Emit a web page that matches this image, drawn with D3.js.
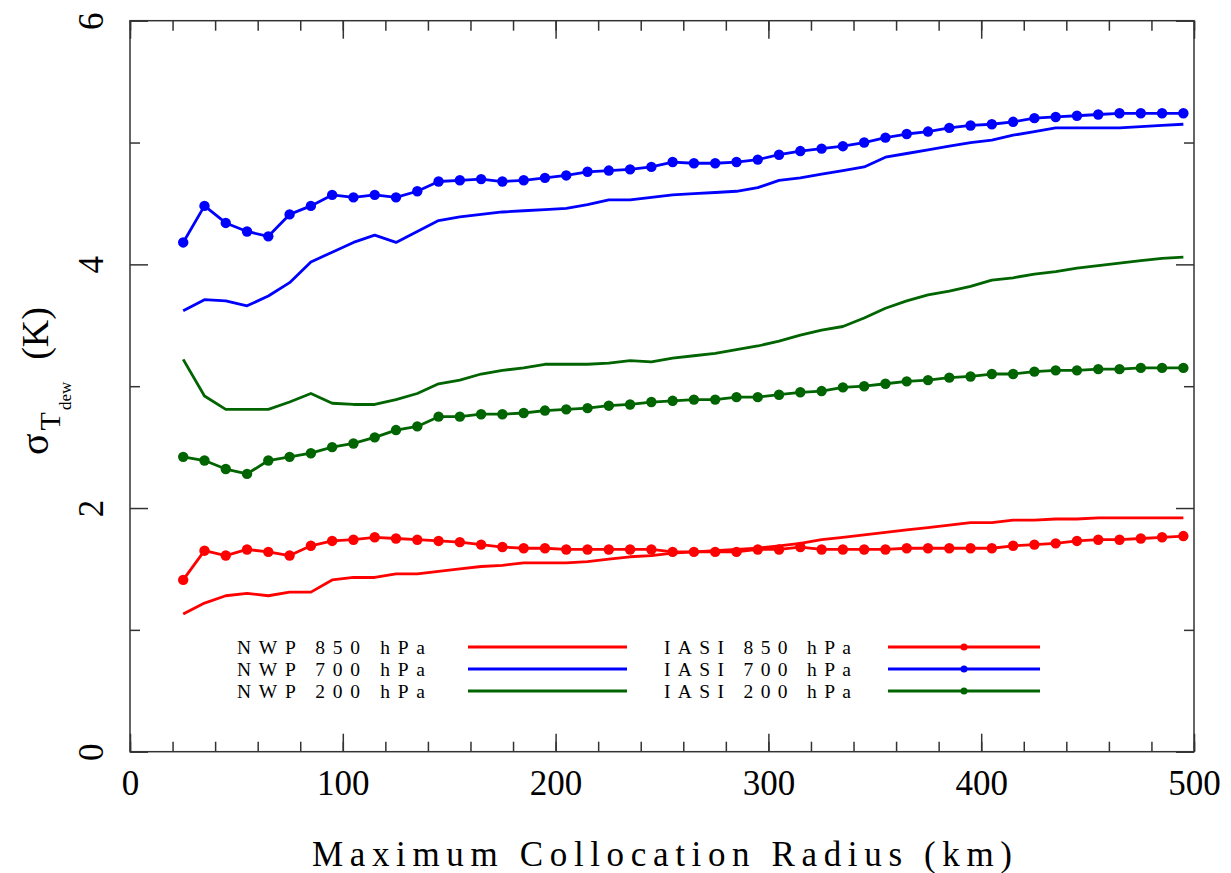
<!DOCTYPE html>
<html>
<head>
<meta charset="utf-8">
<script src="https://cdn.jsdelivr.net/npm/d3@7"></script>
<style>
body { margin: 0; background: #fff; }
svg text { font-family: "Liberation Serif", "Times New Roman", Times, serif; fill: #000; }
</style>
</head>
<body>
<svg id="chart" width="1231" height="873"></svg>
<script>
// maximum collocation radius (km), one sample every 10 km
var radius = [25, 35, 45, 55, 65, 75, 85, 95, 105, 115, 125, 135, 145, 155, 165, 175,
              185, 195, 205, 215, 225, 235, 245, 255, 265, 275, 285, 295, 305, 315, 325, 335,
              345, 355, 365, 375, 385, 395, 405, 415, 425, 435, 445, 455, 465, 475, 485, 495];

var nwp850 = [1.13, 1.22, 1.28, 1.30, 1.28, 1.31, 1.31, 1.41, 1.43, 1.43, 1.46, 1.46, 1.48, 1.50, 1.52, 1.53,
              1.55, 1.55, 1.55, 1.56, 1.58, 1.60, 1.61, 1.63, 1.64, 1.65, 1.66, 1.67, 1.69, 1.71, 1.74, 1.76,
              1.78, 1.80, 1.82, 1.84, 1.86, 1.88, 1.88, 1.90, 1.90, 1.91, 1.91, 1.92, 1.92, 1.92, 1.92, 1.92];
var nwp700 = [3.62, 3.71, 3.70, 3.66, 3.74, 3.85, 4.02, 4.10, 4.18, 4.24, 4.18, 4.27, 4.36, 4.39, 4.41, 4.43,
              4.44, 4.45, 4.46, 4.49, 4.53, 4.53, 4.55, 4.57, 4.58, 4.59, 4.60, 4.63, 4.69, 4.71, 4.74, 4.77,
              4.80, 4.88, 4.91, 4.94, 4.97, 5.00, 5.02, 5.06, 5.09, 5.12, 5.12, 5.12, 5.12, 5.13, 5.14, 5.15];
var nwp200 = [3.22, 2.92, 2.81, 2.81, 2.81, 2.87, 2.94, 2.86, 2.85, 2.85, 2.89, 2.94, 3.02, 3.05, 3.10, 3.13,
              3.15, 3.18, 3.18, 3.18, 3.19, 3.21, 3.20, 3.23, 3.25, 3.27, 3.30, 3.33, 3.37, 3.42, 3.46, 3.49,
              3.56, 3.64, 3.70, 3.75, 3.78, 3.82, 3.87, 3.89, 3.92, 3.94, 3.97, 3.99, 4.01, 4.03, 4.05, 4.06];

var iasi850 = [1.41, 1.65, 1.61, 1.66, 1.64, 1.61, 1.69, 1.73, 1.74, 1.76, 1.75, 1.74, 1.73, 1.72, 1.70, 1.68,
               1.67, 1.67, 1.66, 1.66, 1.66, 1.66, 1.66, 1.64, 1.64, 1.64, 1.64, 1.66, 1.66, 1.68, 1.66, 1.66,
               1.66, 1.66, 1.67, 1.67, 1.67, 1.67, 1.67, 1.69, 1.70, 1.71, 1.73, 1.74, 1.74, 1.75, 1.76, 1.77];
var iasi700 = [4.18, 4.48, 4.34, 4.27, 4.23, 4.41, 4.48, 4.57, 4.55, 4.57, 4.55, 4.60, 4.68, 4.69, 4.70, 4.68,
               4.69, 4.71, 4.73, 4.76, 4.77, 4.78, 4.80, 4.84, 4.83, 4.83, 4.84, 4.86, 4.90, 4.93, 4.95, 4.97,
               5.00, 5.04, 5.07, 5.09, 5.12, 5.14, 5.15, 5.17, 5.20, 5.21, 5.22, 5.23, 5.24, 5.24, 5.24, 5.24];
var iasi200 = [2.42, 2.39, 2.32, 2.28, 2.39, 2.42, 2.45, 2.50, 2.53, 2.58, 2.64, 2.67, 2.75, 2.75, 2.77, 2.77,
               2.78, 2.80, 2.81, 2.82, 2.84, 2.85, 2.87, 2.88, 2.89, 2.89, 2.91, 2.91, 2.93, 2.95, 2.96, 2.99,
               3.00, 3.02, 3.04, 3.05, 3.07, 3.08, 3.10, 3.10, 3.12, 3.13, 3.13, 3.14, 3.14, 3.15, 3.15, 3.15];

var xMajor = [0, 100, 200, 300, 400, 500];
var yMajor = [0, 2, 4, 6];

var series = [
    {name: 'NWP 850 hPa',  values: nwp850,  color: '#ff0000', dots: false},
    {name: 'NWP 700 hPa',  values: nwp700,  color: '#0000ff', dots: false},
    {name: 'NWP 200 hPa',  values: nwp200,  color: '#006400', dots: false},
    {name: 'IASI 850 hPa', values: iasi850, color: '#ff0000', dots: true},
    {name: 'IASI 700 hPa', values: iasi700, color: '#0000ff', dots: true},
    {name: 'IASI 200 hPa', values: iasi200, color: '#006400', dots: true}
];

var serif = '"Liberation Serif", "Times New Roman", Times, serif';

var svg = d3.select('#chart');
var x = d3.scaleLinear().domain([0, 500]).range([130, 1194]);
var y = d3.scaleLinear().domain([0, 6]).range([751.7, 20.7]);

var frameColor = '#333';

function styleAxis(g) {
    g.attr('color', frameColor).attr('font-family', serif);
    g.selectAll('.domain').remove();
    g.selectAll('line').attr('stroke-width', 1.5);
}

// minor ticks first, then majors on top (all pointing inward)
svg.append('g').attr('transform', 'translate(0,' + y(0) + ')')
   .call(d3.axisBottom(x).ticks(25).tickSize(-10).tickFormat(''))
   .call(styleAxis);
svg.append('g').attr('transform', 'translate(0,' + y(6) + ')')
   .call(d3.axisTop(x).ticks(25).tickSize(-10).tickFormat(''))
   .call(styleAxis);
svg.append('g').attr('transform', 'translate(' + x(0) + ',0)')
   .call(d3.axisLeft(y).tickValues([1, 3, 5]).tickSize(-10).tickFormat(''))
   .call(styleAxis);
svg.append('g').attr('transform', 'translate(' + x(500) + ',0)')
   .call(d3.axisRight(y).tickValues([1, 3, 5]).tickSize(-10).tickFormat(''))
   .call(styleAxis);

var xAxis = svg.append('g').attr('transform', 'translate(0,' + y(0) + ')')
   .call(d3.axisBottom(x).tickValues(xMajor).tickSize(-18).tickPadding(18).tickFormat(d3.format('d')))
   .call(styleAxis);
xAxis.selectAll('text')
     .attr('font-size', 35)
     .style('font-family', serif)
     .attr('fill', '#000');

svg.append('g').attr('transform', 'translate(0,' + y(6) + ')')
   .call(d3.axisTop(x).tickValues(xMajor).tickSize(-18).tickFormat(''))
   .call(styleAxis);

var yAxis = svg.append('g').attr('transform', 'translate(' + x(0) + ',0)')
   .call(d3.axisLeft(y).tickValues(yMajor).tickSize(-18).tickFormat(d3.format('d')))
   .call(styleAxis);
yAxis.selectAll('text')
     .attr('x', null).attr('dy', null)
     .attr('text-anchor', 'middle')
     .attr('transform', 'translate(-27,0) rotate(-90)')
     .attr('font-size', 35)
     .style('font-family', serif)
     .attr('fill', '#000');

svg.append('g').attr('transform', 'translate(' + x(500) + ',0)')
   .call(d3.axisRight(y).tickValues(yMajor).tickSize(-18).tickFormat(''))
   .call(styleAxis);

// frame
svg.append('rect')
   .attr('x', x(0)).attr('y', y(6))
   .attr('width', x(500) - x(0)).attr('height', y(0) - y(6))
   .attr('fill', 'none').attr('stroke', frameColor).attr('stroke-width', 1.5);

// data
var line = d3.line()
    .x(function(d) { return x(d[0]); })
    .y(function(d) { return y(d[1]); });

series.forEach(function(s) {
    var pts = radius.map(function(r, i) { return [r, s.values[i]]; });
    svg.append('path')
       .datum(pts)
       .attr('d', line)
       .attr('fill', 'none')
       .attr('stroke', s.color)
       .attr('stroke-width', 2.8)
       .attr('stroke-linejoin', 'round');
    if (s.dots) {
        svg.append('g').selectAll('circle')
           .data(pts)
           .enter().append('circle')
           .attr('cx', function(d) { return x(d[0]); })
           .attr('cy', function(d) { return y(d[1]); })
           .attr('r', 5.2)
           .attr('fill', s.color);
    }
});

// legend, two columns of three rows
var legendRows = [647, 669, 691];
var legendCols = [
    {textX: 237, lineX1: 468, lineX2: 627},
    {textX: 664, lineX1: 888, lineX2: 1040}
];

series.forEach(function(s, i) {
    var col = legendCols[s.dots ? 1 : 0];
    var ry = legendRows[i % 3];
    svg.append('text')
       .attr('x', col.textX).attr('y', ry + 7)
       .attr('font-size', 19.5)
       .attr('textLength', s.dots ? 187 : 188)
       .attr('lengthAdjust', 'spacing')
       .text(s.name);
    svg.append('line')
       .attr('x1', col.lineX1).attr('x2', col.lineX2)
       .attr('y1', ry).attr('y2', ry)
       .attr('stroke', s.color).attr('stroke-width', 2.8);
    if (s.dots) {
        svg.append('circle')
           .attr('cx', (col.lineX1 + col.lineX2) / 2).attr('cy', ry)
           .attr('r', 3.5).attr('fill', s.color);
    }
});

// axis titles
svg.append('text')
   .attr('x', (x(0) + x(500)) / 2).attr('y', 866)
   .attr('text-anchor', 'middle')
   .attr('font-size', 35)
   .attr('textLength', 700)
   .attr('lengthAdjust', 'spacing')
   .text('Maximum Collocation Radius (km)');

var ylab = svg.append('text')
   .attr('transform', 'translate(48,455) rotate(-90)')
   .attr('font-size', 40);
ylab.append('tspan').text('σ');
ylab.append('tspan').attr('font-size', 30).attr('dx', 3).attr('dy', 12).text('T');
ylab.append('tspan').attr('font-size', 17).attr('dx', 2).attr('dy', 11).text('dew');
ylab.append('tspan').attr('font-size', 38).attr('dx', 22).attr('dy', -23).text('(K)');
</script>
</body>
</html>
